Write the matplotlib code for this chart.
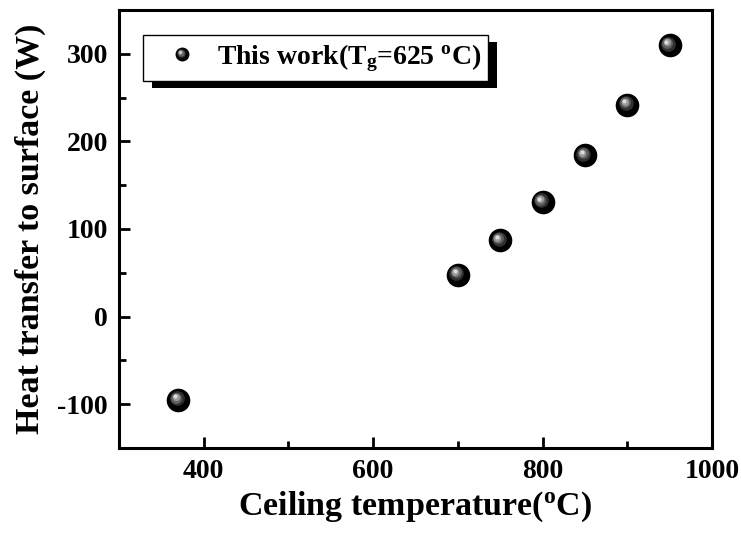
import matplotlib
matplotlib.use("Agg")
import matplotlib.pyplot as plt
import matplotlib.transforms as mtransforms
from matplotlib.patches import Rectangle
from matplotlib.lines import Line2D
from matplotlib.legend_handler import HandlerBase
from matplotlib.ticker import MultipleLocator

plt.rcParams['font.family'] = ['Liberation Serif', 'DejaVu Serif']
plt.rcParams['font.weight'] = 'bold'
plt.rcParams['axes.unicode_minus'] = False
plt.rcParams['mathtext.fontset'] = 'custom'
plt.rcParams['mathtext.rm'] = 'Liberation Serif:bold'
plt.rcParams['mathtext.bf'] = 'Liberation Serif:bold'
plt.rcParams['mathtext.it'] = 'Liberation Serif:bold'
plt.rcParams['mathtext.default'] = 'bf'

# Ceiling temperature (°C) vs heat transfer to surface (W)
ceiling_temp = [370, 700, 750, 800, 850, 900, 950]
heat_transfer = [-95, 48, 87, 131, 184, 242, 310]
x_ticks = [400, 600, 800, 1000]
y_ticks = [-100, 0, 100, 200, 300]

fig = plt.figure(figsize=(7.41, 5.35), dpi=100)
ax = fig.add_axes([119 / 741, 1 - 448 / 535, (712 - 119) / 741, (448 - 10) / 535])

# shading layers for a glossy sphere: (size fraction, colour)
SHADE = [(0.62, '#303030'), (0.46, '#606060'), (0.31, '#9a9a9a'),
         (0.17, '#dedede')]


def sphere(ax, x, y, size=17, label=None):
    """Draw shaded spherical markers: dark body plus an offset highlight."""
    ax.scatter(x, y, s=size ** 2, color='black', zorder=3, label=label,
               linewidths=0)
    for frac, col in SHADE:
        d = size * 0.17 / 72 * (1 - frac)
        off = mtransforms.ScaledTranslation(-d, d, fig.dpi_scale_trans)
        ax.scatter(x, y, s=(size * frac) ** 2, color=col, zorder=4,
                   linewidths=0, transform=ax.transData + off)


class SphereHandler(HandlerBase):
    def __init__(self, size=10, **kw):
        super().__init__(**kw)
        self.size = size

    def create_artists(self, legend, orig_handle, xdescent, ydescent,
                       width, height, fontsize, trans):
        cx = width / 2 - xdescent
        cy = height / 2 - ydescent
        arts = [Line2D([cx], [cy], marker='o', markersize=self.size,
                       color='black', markeredgewidth=0, transform=trans)]
        for frac, col in SHADE:
            d = self.size * 0.17 * (1 - frac)
            arts.append(Line2D([cx - d], [cy + d], marker='o',
                               markersize=self.size * frac, color=col,
                               markeredgewidth=0, transform=trans))
        return arts


sphere(ax, ceiling_temp, heat_transfer, size=17,
       label=r'This work(T$_{g}$=625 $^{o}$C)')

ax.set_xlim(300, 1000)
ax.set_ylim(-150, 350)
ax.set_xticks(x_ticks)
ax.set_yticks(y_ticks)
ax.xaxis.set_minor_locator(MultipleLocator(100))
ax.yaxis.set_minor_locator(MultipleLocator(50))
ax.tick_params(which='both', direction='in', width=2, labelsize=20,
               top=False, right=False)
ax.tick_params(which='major', length=8, pad=8)
ax.tick_params(which='minor', length=5)
for lab in ax.get_xticklabels() + ax.get_yticklabels():
    lab.set_fontweight('bold')
for sp in ax.spines.values():
    sp.set_linewidth(2.2)

ax.set_xlabel(r'Ceiling temperature($^{o}$C)', fontsize=24.5,
              fontweight='bold', labelpad=4)
ax.set_ylabel('Heat transfer to surface (W)', fontsize=24.5, fontweight='bold',
              labelpad=8)

handles, labels = ax.get_legend_handles_labels()
leg = ax.legend(handles, labels, loc='upper left',
                bbox_to_anchor=(24 / 593, 1 - 25 / 438), frameon=True,
                fancybox=False, edgecolor='black', facecolor='white',
                framealpha=1, fontsize=20,
                handletextpad=0.1, borderpad=0.25, handlelength=2.3,
                borderaxespad=0,
                handler_map={type(handles[0]): SphereHandler(size=10)})
leg.get_frame().set_linewidth(1.0)
leg.set_zorder(10)

# Solid drop shadow behind the legend box
fig.canvas.draw()
bb = leg.get_window_extent().transformed(fig.transFigure.inverted())
dx, dy = 9 / 741, 7 / 535
ax.add_patch(Rectangle((bb.x0 + dx, bb.y0 - dy), bb.width, bb.height,
                       transform=fig.transFigure, facecolor='black',
                       edgecolor='none', zorder=9, clip_on=False))

fig.savefig('out.png', dpi=100)
